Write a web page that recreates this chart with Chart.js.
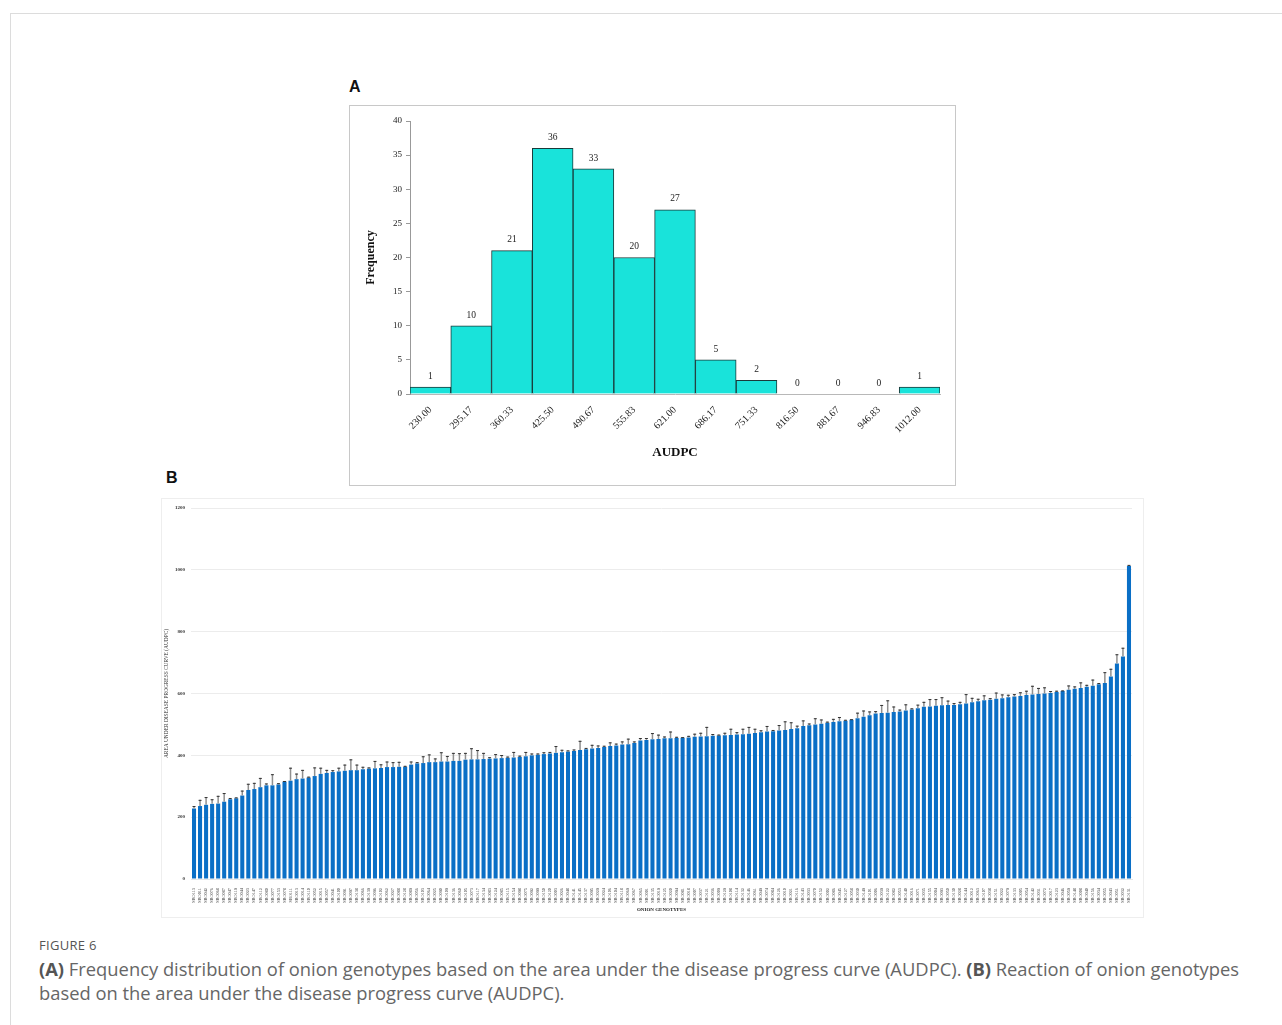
<!DOCTYPE html>
<html>
<head>
<meta charset="utf-8">
<script src="https://cdn.jsdelivr.net/npm/chart.js@4.4.1/dist/chart.umd.min.js"></script>
<style>
  html, body { margin:0; padding:0; background:#fff; }
  body { width:1282px; height:1025px; position:relative; overflow:hidden; font-family:"Open Sans", sans-serif; }
  .frame { position:absolute; left:10px; top:13px; width:1280px; height:1020px; border-top:1px solid #dcdcdc; border-left:1px solid #dcdcdc; }
  .panel-label { position:absolute; font-family:"Liberation Sans", Arial, sans-serif; font-weight:bold; font-size:16px; color:#111; }
  #boxA { position:absolute; left:349px; top:105px; width:605px; height:379px; border:1px solid #c8c8c8; background:#fff; }
  #boxB { position:absolute; left:161px; top:498px; width:981px; height:418px; border:1px solid #eeeeee; background:#fff; }
  .cwrap { position:absolute; left:0; top:0; width:100%; height:100%; }
  .fig { position:absolute; left:39px; top:936px; font-size:13px; color:#555; letter-spacing:0.3px; }
  .cap { position:absolute; left:39px; top:957px; font-size:18.35px; line-height:24px; color:#666; white-space:nowrap; }
  .cap b { color:#555; }
</style>
</head>
<body>
<div class="frame"></div>
<div class="panel-label" style="left:349px; top:78px;">A</div>
<div class="panel-label" style="left:166px; top:469px;">B</div>
<div id="boxA"><div class="cwrap"><canvas id="chartA"></canvas></div></div>
<div id="boxB"><div class="cwrap"><canvas id="chartB"></canvas></div></div>
<div class="fig">FIGURE 6</div>
<div class="cap"><b>(A)</b> Frequency distribution of onion genotypes based on the area under the disease progress curve (AUDPC). <b>(B)</b> Reaction of onion genotypes<br>based on the area under the disease progress curve (AUDPC).</div>

<script>
// ---------- Panel A data ----------
const binLabels = ['230.00','295.17','360.33','425.50','490.67','555.83','621.00','686.17','751.33','816.50','881.67','946.83','1012.00'];
const binFrequency = [1,10,21,36,33,20,27,5,2,0,0,0,1];
const freqTicks = [0,5,10,15,20,25,30,35,40];

// ---------- Panel B data ----------
const genotypes = [
'SBO113','SBO011','SBO042','SBO076','SBO068','SBO087','SBO047','SBO119','SBO044','SBO023','SBO147','SBO112','SBO080',
'SBO077','SBO153','SBO078','SBO111','SBO013','SBO014','SBO110','SBO052','SBO015','SBO057','SBO041','SBO100','SBO091',
'SBO097','SBO138','SBO066','SBO139','SBO096','SBO102','SBO062','SBO027','SBO088','SBO128','SBO089','SBO056','SBO103',
'SBO064','SBO025','SBO090','SBO109','SBO136','SBO060','SBO105','SBO073','SBO117','SBO134','SBO083','SBO124','SBO085',
'SBO115','SBO154','SBO098','SBO075','SBO092','SBO099','SBO150','SBO120','SBO003','SBO026','SBO048','SBO141','SBO145',
'SBO137','SBO095','SBO029','SBO024','SBO106','SBO104','SBO118','SBO069','SBO067','SBO065','SBO001','SBO135','SBO019',
'SBO125','SBO020','SBO094','SBO081','SBO018','SBO007','SBO037','SBO121','SBO036','SBO009','SBO129','SBO108','SBO114',
'SBO132','SBO146','SBO061','SBO049','SBO074','SBO084','SBO126','SBO010','SBO021','SBO116','SBO143','SBO033','SBO070',
'SBO152','SBO002','SBO086','SBO045','SBO127','SBO058','SBO030','SBO149','SBO101','SBO006','SBO039','SBO122','SBO082',
'SBO053','SBO140','SBO016','SBO071','SBO035','SBO155','SBO004','SBO093','SBO050','SBO130','SBO028','SBO144','SBO012',
'SBO063','SBO107','SBO038','SBO151','SBO022','SBO079','SBO133','SBO005','SBO054','SBO142','SBO031','SBO072','SBO017',
'SBO123','SBO046','SBO059','SBO148','SBO008','SBO040','SBO156','SBO034','SBO055','SBO043','SBO051','SBO032','SBO131'
];
const audpc = [
228,
236,240,243,244,250,258,261,270,288,291,
297,303,303,306,315,318,323,325,328,333,340,343,346,348,350,352,352,355,357,358,359,
362,362,363,363,370,374,375,378,378,380,380,382,382,386,387,387,388,389,390,391,392,393,395,397,400,402,404,406,408,410,412,414,417,420,422,424,
427,430,432,435,436,440,448,450,452,453,455,455,456,457,458,460,461,462,463,464,465,466,467,468,470,472,475,477,478,480,482,485,488,
495,497,500,502,505,508,510,512,515,520,525,530,535,537,538,540,542,545,548,552,
557,558,560,562,563,563,565,568,572,575,578,580,583,585,588,590,592,595,597,598,600,602,605,608,612,615,618,
622,625,630,634,655,
697,720,
1012
];
const audpcError = [
8,20,25,15,25,28,4,3,16,20,20,30,6,
36,4,2,42,18,28,3,28,20,10,6,12,20,
35,18,8,4,24,12,18,16,16,3,10,4,22,
25,12,30,18,26,25,22,36,30,20,5,14,10,
4,18,4,14,6,4,6,5,22,8,4,5,30,
4,12,8,4,12,6,10,18,5,8,6,20,14,
6,22,4,2,5,10,12,30,6,3,8,20,8,
18,22,14,6,18,4,18,28,22,8,18,6,20,
14,4,10,14,3,2,18,20,12,8,26,40,18,
6,20,4,12,16,24,22,26,14,6,8,30,14,
8,16,5,20,12,8,8,12,14,28,20,20,6,
4,2,14,8,18,6,20,4,35,25,30,28,4
];
const audpcTicks = [0,200,400,600,800,1000,1200];

// ---------- plugins ----------
const valueLabels = {
  id: 'valueLabels',
  afterDatasetsDraw(chart) {
    const ctx = chart.ctx;
    const meta = chart.getDatasetMeta(0);
    const ds = chart.data.datasets[0];
    ctx.save();
    ctx.font = '9.5px "Liberation Serif", serif';
    ctx.fillStyle = '#222';
    ctx.textAlign = 'center';
    ctx.textBaseline = 'bottom';
    meta.data.forEach((el, i) => {
      ctx.fillText(String(ds.data[i]), el.x, el.y - 6);
    });
    ctx.restore();
  }
};

const errorBars = {
  id: 'errorBars',
  afterDatasetsDraw(chart) {
    const ctx = chart.ctx;
    const meta = chart.getDatasetMeta(0);
    const y = chart.scales.y;
    ctx.save();
    meta.data.forEach((el, i) => {
      const top = y.getPixelForValue(audpc[i] + audpcError[i]);
      ctx.strokeStyle = '#8f8f8f';
      ctx.lineWidth = 1.5;
      ctx.beginPath();
      ctx.moveTo(el.x, el.y);
      ctx.lineTo(el.x, top);
      ctx.stroke();
      ctx.strokeStyle = '#333';
      ctx.lineWidth = 1;
      ctx.beginPath();
      ctx.moveTo(el.x - 1.5, top + 0.5);
      ctx.lineTo(el.x + 1.5, top + 0.5);
      ctx.stroke();
    });
    ctx.restore();
  }
};

// ---------- Chart A ----------
new Chart(document.getElementById('chartA'), {
  type: 'bar',
  data: {
    labels: binLabels,
    datasets: [{
      data: binFrequency,
      backgroundColor: '#19e3da',
      borderColor: '#1a3a3a',
      borderWidth: 1,
      barPercentage: 1.0,
      categoryPercentage: 1.0
    }]
  },
  options: {
    responsive: true,
    maintainAspectRatio: false,
    animation: false,
    layout: { padding: { left: 14, right: 15, top: 15, bottom: 25 } },
    plugins: { legend: { display: false }, tooltip: { enabled: false } },
    scales: {
      x: {
        grid: { display: false },
        border: { display: true, color: '#b8b8b8' },
        ticks: {
          color: '#222', minRotation: 45, maxRotation: 45, padding: 2,
          font: { family: '"Liberation Serif", serif', size: 10 }
        },
        title: {
          display: true, text: 'AUDPC', color: '#111', padding: 0,
          font: { family: '"Liberation Serif", serif', size: 13, weight: 'bold' }
        },
        afterFit(s) { s.height = 66; }
      },
      y: {
        min: 0, max: 40,
        afterBuildTicks(s) { s.ticks = freqTicks.map(v => ({ value: v })); },
        grid: { drawOnChartArea: false, drawTicks: true, tickLength: 4, color: '#999' },
        border: { display: true, color: '#999' },
        ticks: {
          color: '#222', padding: 4,
          font: { family: '"Liberation Serif", serif', size: 9 }
        },
        title: {
          display: true, text: 'Frequency', color: '#111', padding: 0,
          font: { family: '"Liberation Serif", serif', size: 12, weight: 'bold' }
        },
        afterFit(s) { s.width = 46; }
      }
    }
  },
  plugins: [valueLabels]
});

// ---------- Chart B ----------
new Chart(document.getElementById('chartB'), {
  type: 'bar',
  data: {
    labels: genotypes,
    datasets: [{
      data: audpc,
      backgroundColor: '#0a6fc6',
      borderWidth: 0,
      barPercentage: 0.82,
      categoryPercentage: 0.82
    }]
  },
  options: {
    responsive: true,
    maintainAspectRatio: false,
    animation: false,
    layout: { padding: { left: 1, right: 11, top: 8, bottom: 4 } },
    plugins: { legend: { display: false }, tooltip: { enabled: false } },
    scales: {
      x: {
        grid: { display: false },
        border: { display: true, color: '#e6e6e6' },
        ticks: {
          autoSkip: false, minRotation: 90, maxRotation: 90, padding: 1,
          color: '#444', font: { family: '"Liberation Serif", serif', size: 4.3 }
        },
        title: {
          display: true, text: 'ONION GENOTYPES', color: '#222', padding: 0,
          font: { family: '"Liberation Serif", serif', size: 5, weight: 'bold' }
        },
        afterFit(s) { s.height = 34; }
      },
      y: {
        min: 0, max: 1200,
        afterBuildTicks(s) { s.ticks = audpcTicks.map(v => ({ value: v })); },
        grid: { color: '#ececec', drawTicks: false },
        border: { display: false },
        ticks: {
          padding: 6, color: '#333',
          callback: (v) => String(v),
          font: { family: '"Liberation Serif", serif', size: 5, weight: 'bold' }
        },
        title: {
          display: true, text: 'AREA UNDER DISEASE PROGRESS CURVE (AUDPC)', color: '#333', padding: 0,
          font: { family: '"Liberation Serif", serif', size: 5.4 }
        },
        afterFit(s) { s.width = 28; }
      }
    }
  },
  plugins: [errorBars]
});
</script>
</body>
</html>
